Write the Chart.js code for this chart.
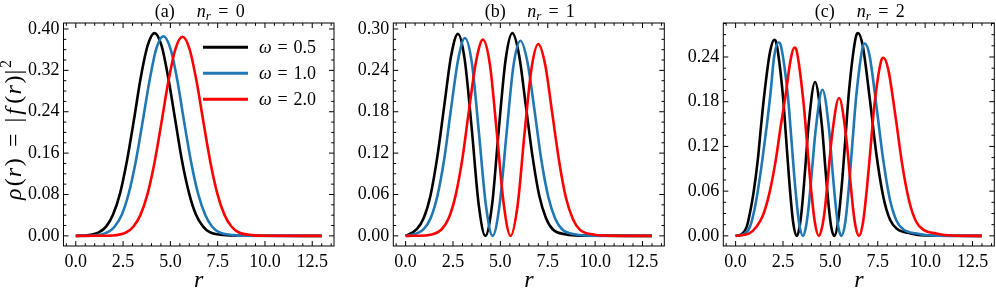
<!DOCTYPE html>
<html><head><meta charset="utf-8">
<script src="https://cdn.jsdelivr.net/npm/chart.js@4.4.1/dist/chart.umd.min.js"></script>
<style>
html,body{margin:0;padding:0;background:#fff;}
#wrap{position:relative;width:996px;height:292px;overflow:hidden;background:#fff;}
canvas{position:absolute;top:0;}
</style></head><body>
<div id="wrap">
<canvas id="ca" width="340" height="292" style="left:0px"></canvas>
<canvas id="cb" width="340" height="292" style="left:330px"></canvas>
<canvas id="cc" width="336" height="292" style="left:660px"></canvas>
</div>
<script>
// ---------- data ----------
const SERIES_LABELS = ['0.5', '1.0', '2.0'];   // omega values
const PANEL_TAGS = ['(a)', '(b)', '(c)'];
const PANEL_NR = ['0', '1', '2'];
const X_TICKS = [0, 2.5, 5, 7.5, 10, 12.5];
const A_Y_TICKS = [0, 0.08, 0.16, 0.24, 0.32, 0.40];
const B_Y_TICKS = [0, 0.06, 0.12, 0.18, 0.24, 0.30];
const C_Y_TICKS = [0, 0.06, 0.12, 0.18, 0.24];

// panel (a) n_r = 0
const A_BLACK_X = [0, 0.51, 1.24, 1.61, 1.97, 2.34, 2.70, 3.07, 3.43, 3.80, 4.16, 4.53, 4.89, 5.26, 5.62, 5.99, 6.35, 6.72, 7.08, 7.81, 8.54, 13];
const A_BLACK_Y = [0, 0.0008, 0.0072, 0.0183, 0.0413, 0.0822, 0.1442, 0.2234, 0.3053, 0.3682, 0.392, 0.3682, 0.3053, 0.2234, 0.1442, 0.0822, 0.0413, 0.0183, 0.0072, 0.0016, 0.0003, 0];
const A_BLUE_X = [0, 0.96, 1.69, 2.06, 2.43, 2.79, 3.16, 3.53, 3.90, 4.26, 4.63, 5.00, 5.37, 5.73, 6.10, 6.47, 6.84, 7.20, 7.57, 8.31, 9.04, 13];
const A_BLUE_Y = [0, 0.0007, 0.0071, 0.0181, 0.0407, 0.0809, 0.1420, 0.2199, 0.3006, 0.3626, 0.386, 0.3626, 0.3006, 0.2199, 0.1420, 0.0809, 0.0407, 0.0181, 0.0071, 0.0015, 0.0003, 0];
const A_RED_X = [0, 1.20, 1.94, 2.68, 3.05, 3.42, 3.79, 4.16, 4.53, 4.90, 5.27, 5.64, 6.01, 6.38, 6.75, 7.12, 7.49, 7.86, 8.23, 8.60, 9.34, 10.08, 13];
const A_RED_Y = [0, 0.0001, 0.0007, 0.0070, 0.0180, 0.0406, 0.0807, 0.1416, 0.2194, 0.2998, 0.3617, 0.385, 0.3617, 0.2998, 0.2194, 0.1416, 0.0807, 0.0406, 0.0180, 0.0070, 0.0015, 0.0003, 0];

// panel (b) n_r = 1
const B_BLACK_X = [0, 0.59, 0.95, 1.31, 1.67, 2.04, 2.40, 2.76, 3.12, 3.49, 3.85, 4.21, 4.57, 4.92, 5.28, 5.63, 5.99, 6.34, 6.70, 7.05, 7.41, 7.76, 8.47, 9.18, 13];
const B_BLACK_Y = [0, 0.0096, 0.0255, 0.0583, 0.1142, 0.1889, 0.2608, 0.293, 0.2553, 0.1551, 0.0468, 0, 0.0469, 0.1556, 0.2561, 0.294, 0.2617, 0.1895, 0.1145, 0.0585, 0.0256, 0.0096, 0.0021, 0.0004, 0];
const B_BLUE_X = [0, 0.21, 0.94, 1.31, 1.67, 2.04, 2.40, 2.77, 3.13, 3.50, 3.86, 4.23, 4.59, 4.96, 5.33, 5.69, 6.06, 6.43, 6.80, 7.16, 7.53, 7.90, 8.27, 9.00, 9.74, 13];
const B_BLUE_Y = [0, 0.0009, 0.0094, 0.0250, 0.0571, 0.1118, 0.1850, 0.2555, 0.287, 0.2500, 0.1519, 0.0458, 0, 0.0452, 0.1498, 0.2465, 0.283, 0.2519, 0.1824, 0.1103, 0.0563, 0.0246, 0.0093, 0.0020, 0.0004, 0];
const B_RED_X = [0, 0.43, 1.16, 1.89, 2.26, 2.62, 2.99, 3.35, 3.72, 4.08, 4.45, 4.81, 5.18, 5.54, 5.91, 6.27, 6.64, 7.00, 7.37, 7.73, 8.10, 8.46, 8.83, 9.19, 9.92, 10.65, 13];
const B_RED_Y = [0, 0.0001, 0.0009, 0.0093, 0.0248, 0.0566, 0.1109, 0.1835, 0.2534, 0.2846, 0.2479, 0.1506, 0.0454, 0, 0.0444, 0.1471, 0.2422, 0.278, 0.2475, 0.1792, 0.1083, 0.0553, 0.0242, 0.0091, 0.0019, 0.0004, 0];

// panel (c) n_r = 2
const C_BLACK_X = [0, 0.35, 0.59, 0.75, 0.94, 1.17, 1.34, 1.52, 1.81, 2.04, 2.15, 2.49, 2.66, 2.83, 3.03, 3.23, 3.37, 3.51, 3.68, 3.85, 4.19, 4.55, 4.73, 4.91, 5.05, 5.21, 5.41, 5.63, 5.81, 5.99, 6.35, 6.47, 6.71, 7.07, 7.43, 7.79, 8.15, 8.51, 9.23, 9.95, 13];
const C_BLACK_Y = [0, 0.003, 0.0125, 0.030, 0.057, 0.102, 0.147, 0.191, 0.246, 0.263, 0.2586, 0.1896, 0.1325, 0.0737, 0.0193, 0, 0.0113, 0.0402, 0.0927, 0.1485, 0.2065, 0.1485, 0.0927, 0.0402, 0.0113, 0, 0.0199, 0.0762, 0.1370, 0.1961, 0.2674, 0.272, 0.2546, 0.1859, 0.1092, 0.0529, 0.0215, 0.0095, 0.0033, 0.0005, 0];
const C_BLUE_X = [0, 0.5, 0.76, 0.95, 1.15, 1.41, 1.64, 1.84, 2.03, 2.27, 2.39, 2.76, 2.94, 3.12, 3.34, 3.55, 3.70, 3.85, 4.03, 4.22, 4.58, 4.94, 5.11, 5.29, 5.43, 5.58, 5.79, 6.00, 6.18, 6.36, 6.71, 6.82, 7.07, 7.42, 7.78, 8.13, 8.49, 8.84, 9.55, 10.26, 13];
const C_BLUE_Y = [0, 0.003, 0.0125, 0.030, 0.057, 0.102, 0.147, 0.191, 0.240, 0.2595, 0.2551, 0.1871, 0.1307, 0.0727, 0.0190, 0, 0.0107, 0.0382, 0.0880, 0.1410, 0.196, 0.1410, 0.0880, 0.0382, 0.0107, 0, 0.0189, 0.0723, 0.1300, 0.1860, 0.2537, 0.258, 0.2415, 0.1764, 0.1036, 0.0502, 0.0204, 0.0090, 0.0031, 0.0005, 0];
const C_RED_X = [0, 0.7, 1.11, 1.45, 1.78, 2.12, 2.38, 2.65, 2.90, 3.10, 3.22, 3.57, 3.76, 3.95, 4.18, 4.39, 4.55, 4.71, 4.89, 5.08, 5.46, 5.83, 6.02, 6.20, 6.35, 6.51, 6.72, 6.94, 7.13, 7.31, 7.68, 7.80, 8.05, 8.42, 8.79, 9.16, 9.53, 9.90, 10.64, 11.38, 13];
const C_RED_Y = [0, 0.003, 0.0125, 0.028, 0.057, 0.102, 0.147, 0.191, 0.236, 0.2525, 0.2483, 0.1820, 0.1272, 0.0708, 0.0185, 0, 0.0101, 0.0360, 0.0830, 0.1331, 0.185, 0.1331, 0.0830, 0.0360, 0.0101, 0, 0.0175, 0.0670, 0.1204, 0.1723, 0.2350, 0.239, 0.2237, 0.1634, 0.0959, 0.0465, 0.0189, 0.0084, 0.0029, 0.0005, 0];

// ---------- styling / layout ----------
const COLORS = ['#000000', '#1f77b4', '#ff0000'];
const FONT = '"Liberation Serif", "DejaVu Serif", serif';
const X_MIN = -0.65, X_MAX = 13.65;

function fontOf(p) { return (p.it ? 'italic ' : '') + (p.size || 18) + 'px ' + FONT; }

function drawRich(ctx, pieces, x, y, align, target) {
  let w = 0, gw = 0;
  for (const p of pieces) { ctx.font = fontOf(p); p.w = ctx.measureText(p.t).width; w += p.w; gw += (p.g || 0); }
  let per = 0;
  if (target && gw > 0 && target > w) per = (target - w) / gw;
  const total = w + per * gw;
  let cx = align === 'center' ? x - total / 2 : x;
  ctx.textAlign = 'left'; ctx.textBaseline = 'alphabetic';
  for (const p of pieces) {
    ctx.font = fontOf(p);
    ctx.fillText(p.t, cx, y + (p.dy || 0));
    cx += p.w + per * (p.g || 0);
  }
}

const decorPlugin = {
  id: 'decor',
  afterDatasetsDraw(chart) {
    const cfg = chart.options.plugins.decor;
    const ctx = chart.ctx;
    const a = chart.chartArea;
    const xs = chart.scales.x, ys = chart.scales.y;
    ctx.save();
    ctx.strokeStyle = '#000';
    ctx.lineWidth = 1;
    ctx.strokeRect(a.left, a.top, a.right - a.left, a.bottom - a.top);
    ctx.beginPath();
    // x ticks (minor 0.5, major 2.5)
    for (let k = -1; k <= 27; k++) {
      const v = k * 0.5;
      if (v < X_MIN || v > X_MAX) continue;
      const len = (k % 5 === 0) ? 5 : 2.8;
      const px = xs.getPixelForValue(v);
      ctx.moveTo(px, a.bottom); ctx.lineTo(px, a.bottom - len);
      ctx.moveTo(px, a.top); ctx.lineTo(px, a.top + len);
    }
    // y ticks
    const st = cfg.yMinor;
    for (let k = -2; k <= 40; k++) {
      const v = k * st;
      if (v < ys.min || v > ys.max) continue;
      const len = (k % 4 === 0) ? 5 : 2.8;
      const py = ys.getPixelForValue(v);
      ctx.moveTo(a.left, py); ctx.lineTo(a.left + len, py);
      ctx.moveTo(a.right, py); ctx.lineTo(a.right - len, py);
    }
    ctx.stroke();

    ctx.fillStyle = '#000';
    const cxm = (a.left + a.right) / 2;
    // title
    drawRich(ctx, [
      {t: cfg.tag, g: 3},
      {t: 'n', it: true},
      {t: 'r', it: true, size: 13, dy: 3.5, g: 1},
      {t: '=', g: 1},
      {t: cfg.nr}
    ], cxm + 1, 16.5, 'center', 90);
    // x label
    drawRich(ctx, [{t: 'r', it: true, size: 24}], cxm, 287, 'center');
    // y label
    if (cfg.ylabel) {
      ctx.save();
      ctx.translate(21, 130);
      ctx.rotate(-Math.PI / 2);
      drawRich(ctx, [
        {t: 'ρ', it: true, size: 24, g: 0.4},
        {t: '(', size: 24, g: 0.2},
        {t: 'r', it: true, size: 24, g: 0.3},
        {t: ')', size: 24, g: 2},
        {t: '=', size: 24, g: 2},
        {t: '|', size: 24, g: 0.5},
        {t: 'f', it: true, size: 24, g: 0.8},
        {t: '(', size: 24, g: 0.2},
        {t: 'r', it: true, size: 24, g: 0.3},
        {t: ')', size: 24, g: 0.2},
        {t: '|', size: 24, g: 0.3},
        {t: '2', size: 16, dy: -10}
      ], 0, 0, 'center', 140);
      ctx.restore();
    }
    // legend
    if (cfg.legend) {
      const rows = [47.3, 73.3, 99.3];
      chart.data.datasets.forEach((ds, i) => {
        ctx.strokeStyle = ds.borderColor;
        ctx.lineWidth = 3;
        ctx.beginPath();
        ctx.moveTo(203, rows[i]); ctx.lineTo(248, rows[i]);
        ctx.stroke();
        ctx.fillStyle = '#000';
        drawRich(ctx, [
          {t: 'ω', it: true, g: 1},
          {t: '=', g: 1},
          {t: SERIES_LABELS[i]}
        ], 259, rows[i] + 6, 'left', 57);
      });
    }
    ctx.restore();
  }
};

function makeChart(id, idx, series, yTicks, yMin, yMax, yMinor, yW, padR) {
  const datasets = series.map((s, i) => ({
    label: 'ω = ' + SERIES_LABELS[i],
    data: s[0].map((xv, j) => ({x: xv, y: s[1][j]})),
    borderColor: COLORS[i],
    backgroundColor: COLORS[i],
    borderWidth: 2.6,
    pointRadius: 0,
    fill: false,
    cubicInterpolationMode: 'monotone',
    order: 3 - i
  }));
  const tickFont = {family: FONT, size: 18};
  return new Chart(document.getElementById(id), {
    type: 'line',
    data: {datasets},
    options: {
      responsive: false, animation: false, events: [],
      layout: {padding: {top: 23, left: 0, right: padR, bottom: 0}},
      plugins: {
        legend: {display: false}, title: {display: false}, tooltip: {enabled: false},
        decor: {tag: PANEL_TAGS[idx], nr: PANEL_NR[idx], yMinor, ylabel: idx === 0, legend: idx === 0}
      },
      scales: {
        x: {
          type: 'linear', min: X_MIN, max: X_MAX,
          grid: {display: false, drawTicks: false}, border: {display: false},
          afterBuildTicks: s => { s.ticks = X_TICKS.map(v => ({value: v})); },
          afterFit: s => { s.height = 46; },
          ticks: {font: tickFont, color: '#000', padding: 5, maxRotation: 0, autoSkip: false,
                  callback: v => Number(v).toFixed(1)}
        },
        y: {
          type: 'linear', min: yMin, max: yMax,
          grid: {display: false, drawTicks: false}, border: {display: false},
          afterBuildTicks: s => { s.ticks = yTicks.map(v => ({value: v})); },
          afterFit: s => { s.width = yW; },
          ticks: {font: tickFont, color: '#000', padding: 4, autoSkip: false,
                  callback: v => Number(v).toFixed(2)}
        }
      }
    },
    plugins: [decorPlugin]
  });
}

makeChart('ca', 0, [[A_BLACK_X, A_BLACK_Y], [A_BLUE_X, A_BLUE_Y], [A_RED_X, A_RED_Y]], A_Y_TICKS, -0.0196, 0.4116, 0.02, 63.5, 6);
makeChart('cb', 1, [[B_BLACK_X, B_BLACK_Y], [B_BLUE_X, B_BLUE_Y], [B_RED_X, B_RED_Y]], B_Y_TICKS, -0.0147, 0.3087, 0.015, 63.3, 5.7);
makeChart('cc', 2, [[C_BLACK_X, C_BLACK_Y], [C_BLUE_X, C_BLUE_Y], [C_RED_X, C_RED_Y]], C_Y_TICKS, -0.0136, 0.2856, 0.015, 63.3, 1.7);
</script>
</body></html>
